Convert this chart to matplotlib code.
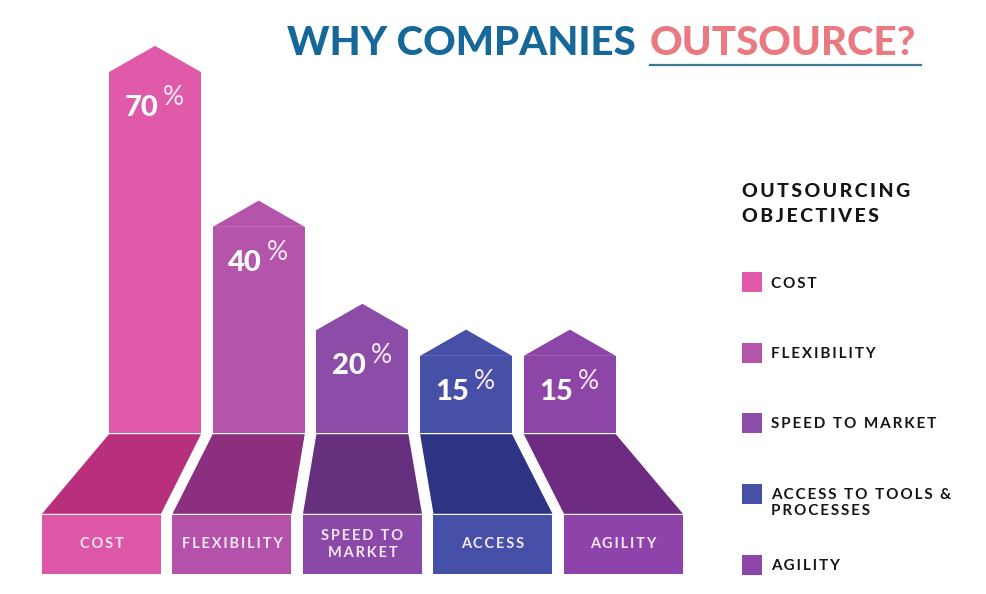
import matplotlib.pyplot as plt
from matplotlib.patches import Polygon, Rectangle
from matplotlib.transforms import Affine2D

# data
categories = ["COST", "FLEXIBILITY", "SPEED TO\nMARKET", "ACCESS", "AGILITY"]
values = [70, 40, 20, 15, 15]
legend_labels = ["COST", "FLEXIBILITY", "SPEED TO MARKET", "ACCESS TO TOOLS &\nPROCESSES", "AGILITY"]

bar_colors = ["#E05AA9", "#B454AB", "#8C4DA8", "#4550A6", "#8D45A8"]
floor_colors = ["#B8307C", "#8D2F7F", "#66307F", "#2D3483", "#6D2C81"]
box_colors = ["#DE56A6", "#B351AB", "#8A49A8", "#4650A9", "#8D43A9"]

W, H = 987, 594
fig = plt.figure(figsize=(W / 100, H / 100), dpi=100)
fig.patch.set_facecolor("white")
ax = fig.add_axes([0, 0, 1, 1])
ax.set_axis_off()

# x in bar-slot units (103.7 px each), y in percent (5.16 px per %)
px_x, px_y = 103.7, 5.16
ax.set_xlim(-155 / px_x, (W - 155) / px_x)
ax.set_ylim(-(H - 433) / px_y, 433 / px_y)

# pixel transform (origin top-left) for the decorations
pix = Affine2D().scale(1 / W, -1 / H).translate(0, 1) + fig.transFigure

FONT = ["Lato", "DejaVu Sans"]


def spaced(s, sep="\u2009"):
    return "\n".join(sep.join(line) for line in s.split("\n"))


bw = 92 / px_x           # upper bar width
lw = 119 / px_x          # lower box width
cap = 26 / px_y          # arrow head height
floor_y = -(515 - 433) / px_y
box_y = -(574 - 433) / px_y
gap = 1.2 / px_y

xs = list(range(len(values)))
ax.bar(xs, values, width=bw, color=bar_colors, align="center", zorder=2)

for i, v in enumerate(values):
    # arrow head
    ax.add_patch(Polygon([(i - bw / 2, v - 0.05), (i, v + cap), (i + bw / 2, v - 0.05)],
                         closed=True, color=bar_colors[i], lw=0, zorder=2))
    # slanted floor
    lc = -0.516 + 1.2584 * i
    ax.add_patch(Polygon([(i - bw / 2, -gap), (i + bw / 2, -gap),
                          (lc + lw / 2, floor_y + gap), (lc - lw / 2, floor_y + gap)],
                         closed=True, color=floor_colors[i], lw=0, zorder=2))
    # front label box
    ax.add_patch(Rectangle((lc - lw / 2, box_y), lw, floor_y - box_y,
                           color=box_colors[i], lw=0, zorder=2))
    ax.text(lc, (floor_y + box_y) / 2, spaced(categories[i]), ha="center", va="center",
            color="#F6E6F0", fontsize=10.5, fontweight="bold", family=FONT,
            linespacing=1.2, zorder=3)
    # percentage label
    ax.text(i + 3 / px_x, v - 44 / px_y, str(v), ha="right", va="baseline",
            color="white", fontsize=21, fontweight="black", family=FONT, zorder=3)
    ax.text(i + 8 / px_x, v - 33 / px_y, "%", ha="left", va="baseline",
            color="#F8E8F4", fontsize=19, fontweight="normal", family=FONT, zorder=3)

# title
fig.text(636, 55, "WHY COMPANIES", transform=pix, ha="right", va="baseline",
         color="#17689A", fontsize=29, fontweight="black", family=FONT)
fig.text(650, 55, "OUTSOURCE?", transform=pix, ha="left", va="baseline",
         color="#E97A82", fontsize=29, fontweight="black", family=FONT)
fig.add_artist(plt.Line2D([650, 921], [65, 65], transform=pix, color="#3F7893", lw=1.6))

# legend
fig.text(742, 197, spaced("OUTSOURCING"), transform=pix, ha="left", va="baseline",
         color="#151515", fontsize=14, fontweight="black", family=FONT)
fig.text(742, 222, spaced("OBJECTIVES"), transform=pix, ha="left", va="baseline",
         color="#151515", fontsize=14, fontweight="black", family=FONT)
leg_y = [282, 353, 423, 494, 565]
for lab, col, yc in zip(legend_labels, bar_colors, leg_y):
    fig.add_artist(Rectangle((742, yc - 10), 20, 20, transform=pix, color=col, lw=0))
    if "\n" in lab:
        fig.text(771, yc - 6, spaced(lab), transform=pix, ha="left", va="top",
                 color="#151515", fontsize=11, fontweight="bold", family=FONT,
                 linespacing=1.2)
    else:
        fig.text(771, yc + 5.5, spaced(lab), transform=pix, ha="left", va="baseline",
                 color="#151515", fontsize=11, fontweight="bold", family=FONT)

fig.savefig("out.png", dpi=100, facecolor="white")
